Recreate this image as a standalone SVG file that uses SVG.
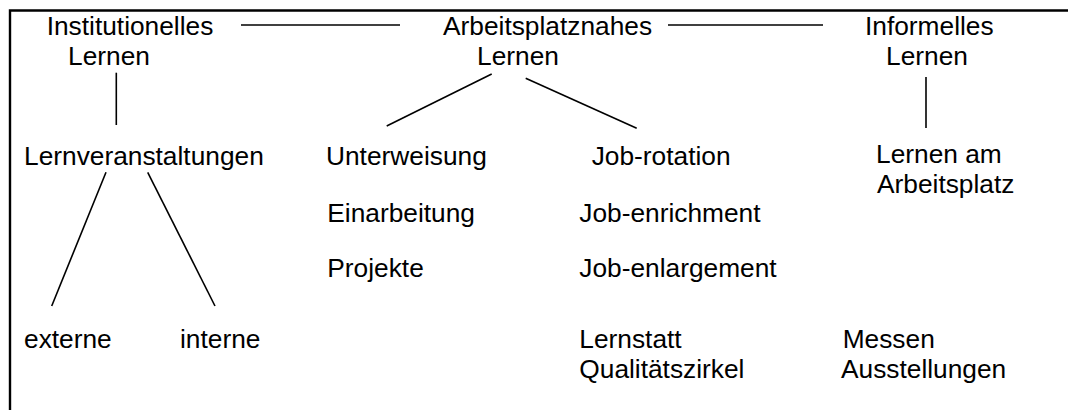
<svg xmlns="http://www.w3.org/2000/svg" width="1068" height="410" viewBox="0 0 1068 410">
<style>
text{font-family:"Liberation Sans",Arial,sans-serif;font-size:26.3px;fill:#000}
.c line{stroke:#000;stroke-width:1.6;fill:none}
.frame{stroke:#000;stroke-width:2.4;fill:none}
</style>
<rect width="1068" height="410" fill="#fff"/>
<path class="frame" d="M10,412 V10.5 H1070"/>
<g id="n-institutionell"><text x="46.7" y="35">Institutionelles</text><text x="68" y="65">Lernen</text></g>
<g id="n-arbeitsplatznah"><text x="443" y="35">Arbeitsplatznahes</text><text x="477" y="65">Lernen</text></g>
<g id="n-informell"><text x="865" y="35">Informelles</text><text x="886" y="65">Lernen</text></g>
<g id="n-lernveranstaltungen"><text x="24" y="165">Lernveranstaltungen</text></g>
<g id="n-externe"><text x="24" y="348">externe</text></g>
<g id="n-interne"><text x="180" y="348">interne</text></g>
<g id="n-unterweisung"><text x="326" y="164.5">Unterweisung</text></g>
<g id="n-einarbeitung"><text x="327.3" y="221.7">Einarbeitung</text></g>
<g id="n-projekte"><text x="327.3" y="276.7">Projekte</text></g>
<g id="n-jobrotation"><text x="591.7" y="164.5">Job-rotation</text></g>
<g id="n-jobenrichment"><text x="579.3" y="221.7">Job-enrichment</text></g>
<g id="n-jobenlargement"><text x="579.3" y="276.7">Job-enlargement</text></g>
<g id="n-lernstatt"><text x="579.3" y="347.7">Lernstatt</text><text x="579.3" y="378.3">Qualitätszirkel</text></g>
<g id="n-lernenamarbeitsplatz"><text x="876" y="163.3">Lernen am</text><text x="877" y="193.3">Arbeitsplatz</text></g>
<g id="n-messen"><text x="842.7" y="347.7">Messen</text><text x="841" y="378.3">Ausstellungen</text></g>
<g class="c" id="connectors">
<line x1="241" y1="25" x2="400" y2="25"/>
<line x1="668" y1="25" x2="823" y2="25"/>
<line x1="116.3" y1="72.7" x2="116.3" y2="125"/>
<line x1="491.7" y1="74" x2="386.7" y2="126"/>
<line x1="525.7" y1="78.3" x2="636.7" y2="128.3"/>
<line x1="926" y1="77" x2="926" y2="128"/>
<line x1="106" y1="172.3" x2="51.7" y2="306"/>
<line x1="147.7" y1="172.3" x2="215" y2="306"/>
</g>
</svg>
